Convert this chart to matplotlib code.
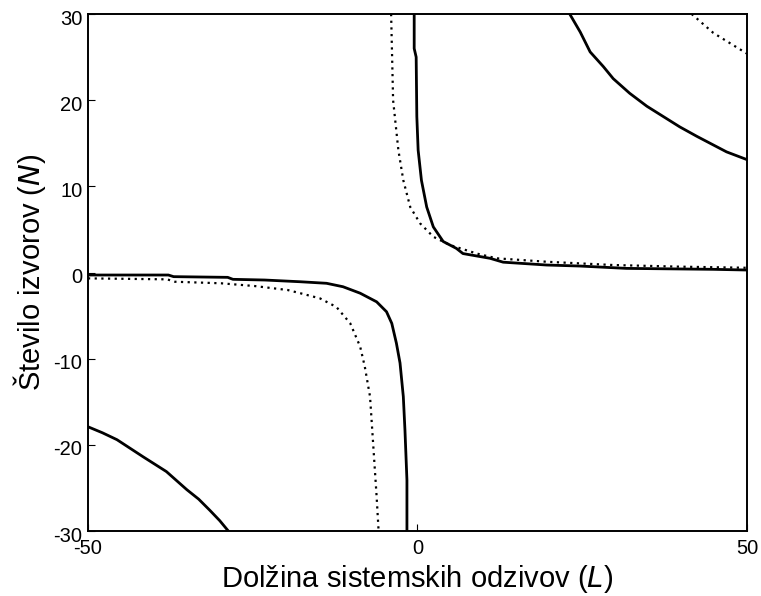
import matplotlib
matplotlib.use("Agg")
import matplotlib.pyplot as plt
from matplotlib.transforms import ScaledTranslation

plt.rcParams['font.family'] = ['Liberation Sans', 'DejaVu Sans']

# solid contour, upper-right branch near the origin
sol_up_L = [-0.5, -0.5, -0.2, -0.1, 0.1, 0.6, 1.4, 2.4, 3.9, 5.9, 6.9,
            11.0, 13.0, 19.6, 24.7, 31.7, 44.9, 50.0]
sol_up_N = [30.0, 26.0, 25.0, 18.1, 14.2, 10.7, 7.6, 5.3, 3.6, 2.8, 2.2,
            1.65, 1.2, 0.87, 0.75, 0.48, 0.37, 0.29]

# solid contour, lower-left branch near the origin
sol_lo_L = [-50.0, -37.8, -37.0, -28.8, -28.0, -23.2, -19.7, -17.8, -13.8, -11.3,
            -8.7, -6.2, -4.7, -3.9, -3.2, -2.65, -2.15, -1.9, -1.6, -1.6]
sol_lo_N = [-0.29, -0.29, -0.48, -0.56, -0.79, -0.87, -1.0, -1.07, -1.25, -1.65,
            -2.4, -3.4, -4.55, -5.9, -8.2, -10.5, -14.4, -18.3, -24.1, -30.0]

# dotted contour, upper-right branch
dot_up_L = [-4.0, -3.7, -2.9, -2.15, -1.1, 0.4, 2.4, 4.9, 9.0, 12.0, 19.6,
            29.7, 39.8, 50.0]
dot_up_N = [30.0, 20.0, 14.2, 10.7, 7.6, 5.7, 4.15, 3.2, 2.2, 1.65, 1.25,
            0.87, 0.68, 0.55]

# dotted contour, lower-left branch
dot_lo_L = [-50.0, -38.0, -36.8, -29.8, -24.7, -19.7, -17.8, -14.8, -12.3, -10.2,
            -8.7, -8.0, -7.2, -6.7, -6.2, -5.9]
dot_lo_N = [-0.68, -0.79, -1.07, -1.25, -1.57, -2.03, -2.4, -3.0, -4.0, -5.9,
            -8.6, -10.9, -14.4, -20.2, -26.0, -30.0]

# outer solid contours (corners)
corner_ur_L = [23.1, 24.7, 26.2, 28.2, 29.7, 32.2, 34.8, 37.3, 39.8, 42.4, 44.9, 46.9, 50.0]
corner_ur_N = [30.0, 27.9, 25.6, 23.9, 22.5, 20.8, 19.3, 18.1, 16.9, 15.8, 14.8, 14.0, 13.1]
corner_ll_L = [-50.0, -47.8, -45.6, -43.6, -41.6, -38.1, -35.0, -33.2, -31.5, -30.0, -28.7]
corner_ll_N = [-17.9, -18.6, -19.4, -20.4, -21.4, -23.1, -25.2, -26.3, -27.6, -28.8, -30.0]

# outer dotted contour (top-right corner)
dot_corner_L = [41.6, 44.9, 50.0]
dot_corner_N = [30.0, 27.8, 25.4]

fig = plt.figure(figsize=(7.61, 5.96), dpi=100)
ax = fig.add_axes([0.1156, 0.109, 0.866, 0.8675])

solid = dict(color='black', lw=2.0, solid_joinstyle='round')
dotted = dict(color='black', lw=1.6, linestyle=(0, (1, 2)))

ax.plot(sol_up_L, sol_up_N, **solid)
ax.plot(sol_lo_L, sol_lo_N, **solid)
ax.plot(corner_ur_L, corner_ur_N, **solid)
ax.plot(corner_ll_L, corner_ll_N, **solid)
ax.plot(dot_up_L, dot_up_N, **dotted)
ax.plot(dot_lo_L, dot_lo_N, **dotted)
ax.plot(dot_corner_L, dot_corner_N, **dotted)

ax.set_xlim(-50, 50)
ax.set_ylim(-30, 30)
ax.set_xticks([-50, 0, 50])
ax.set_yticks([-30, -20, -10, 0, 10, 20, 30])
ax.set_xticklabels(['-50', '0', '50'])
ax.set_yticklabels(['-30', '-20', '-10', '0', '10', '20', '30'])
ax.tick_params(direction='in', length=5, width=0.8, labelsize=14.5, pad=4)
ax.tick_params(axis='x', pad=6)
for lbl in ax.get_yticklabels():
    lbl.set_transform(lbl.get_transform() + ScaledTranslation(0, -0.03, fig.dpi_scale_trans))
for s in ax.spines.values():
    s.set_linewidth(1.4)

ax.set_xlabel('Dolžina sistemskih odzivov ($\\it{L}$)', fontsize=21, labelpad=3)
ax.set_ylabel('Število izvorov ($\\it{N}$)', fontsize=21, labelpad=4)

fig.savefig('out.png', dpi=100)
